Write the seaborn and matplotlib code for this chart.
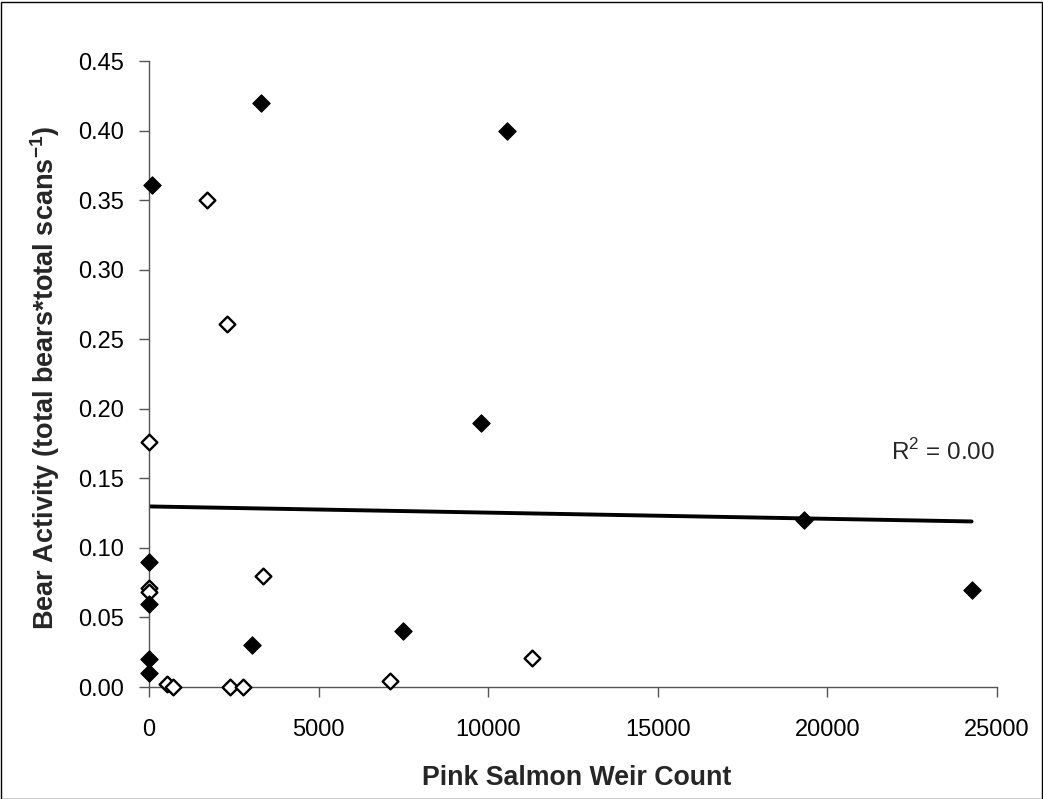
import matplotlib
matplotlib.use("Agg")
import matplotlib.pyplot as plt
import seaborn as sns
import numpy as np
import pandas as pd
from matplotlib.patches import Rectangle

# Data
filled_x = [3290, 10550, 80, 9800, 19300, 24250, 0, 0, 0, 0, 3050, 7500]
filled_y = [0.42, 0.40, 0.361, 0.19, 0.12, 0.07, 0.09, 0.06, 0.02, 0.01, 0.03, 0.04]
open_x = [1700, 2300, 0, 0, 0, 3350, 11300, 7100, 530, 700, 2400, 2770]
open_y = [0.35, 0.261, 0.176, 0.071, 0.068, 0.08, 0.021, 0.004, 0.002, 0.0, 0.0, 0.0]
trend_x = [0, 24250]
trend_y = [0.1298, 0.1190]
x_ticks = [0, 5000, 10000, 15000, 20000, 25000]
y_ticks = [0.00, 0.05, 0.10, 0.15, 0.20, 0.25, 0.30, 0.35, 0.40, 0.45]

sns.set_theme(style="white")
plt.rcParams['font.family'] = ['Liberation Sans', 'DejaVu Sans']

fig = plt.figure(figsize=(10.43, 7.99), dpi=100)
ax = fig.add_axes([149/1043, 1 - 687/799, (997 - 149)/1043, (687 - 61)/799])

df_f = pd.DataFrame({"x": filled_x, "y": filled_y})
df_o = pd.DataFrame({"x": open_x, "y": open_y})
df_t = pd.DataFrame({"x": trend_x, "y": trend_y})

sns.lineplot(data=df_t, x="x", y="y", ax=ax, color="black", linewidth=2.8, zorder=2)
sns.scatterplot(data=df_o, x="x", y="y", ax=ax, marker="D", s=64,
                facecolor="white", edgecolor="black", linewidth=1.7, zorder=3)
sns.scatterplot(data=df_f, x="x", y="y", ax=ax, marker="D", s=78,
                color="black", edgecolor="black", linewidth=0.8, zorder=4)

ax.set_xlim(0, 25000)
ax.set_ylim(0, 0.45)
ax.set_xticks(x_ticks)
ax.set_xticklabels([str(v) for v in x_ticks])
ax.set_yticks(y_ticks)
ax.set_yticklabels([f"{v:.2f}" for v in y_ticks])

for side in ["top", "right"]:
    ax.spines[side].set_visible(False)
for side in ["left", "bottom"]:
    ax.spines[side].set_color("#555555")
    ax.spines[side].set_linewidth(1.0)

ax.tick_params(axis="both", which="major", direction="out", length=7, width=1.0,
               color="#555555", labelsize=17, labelcolor="black",
               left=True, bottom=True)
ax.tick_params(axis="x", pad=16)
ax.tick_params(axis="y", pad=11)

ax.set_xlabel("Pink Salmon Weir Count", fontsize=19.3, fontweight="bold")
ax.set_ylabel(r"Bear Activity (total bears*total scans$^{\mathregular{-1}}$)",
              fontsize=19.5, fontweight="bold")
ax.xaxis.set_label_coords((577 - 149) / 848, (687 - 778) / 626)
ax.xaxis.label.set_va("center")
ax.yaxis.set_label_coords((45 - 149) / 848, (687 - 378) / 626)
ax.yaxis.label.set_va("center")

ax.text(21875, 0.169, r"R$^{\mathregular{2}}$ = 0.00", fontsize=17.5, ha="left", va="center")

for c in ax.collections:
    c.set_clip_on(False)

fig.patches.append(Rectangle((0.5/1043, 0.5/799), 1 - 2/1043, 1 - 2/799,
                             transform=fig.transFigure, fill=False,
                             edgecolor="black", linewidth=1.0))

fig.savefig("out.png", dpi=100)
